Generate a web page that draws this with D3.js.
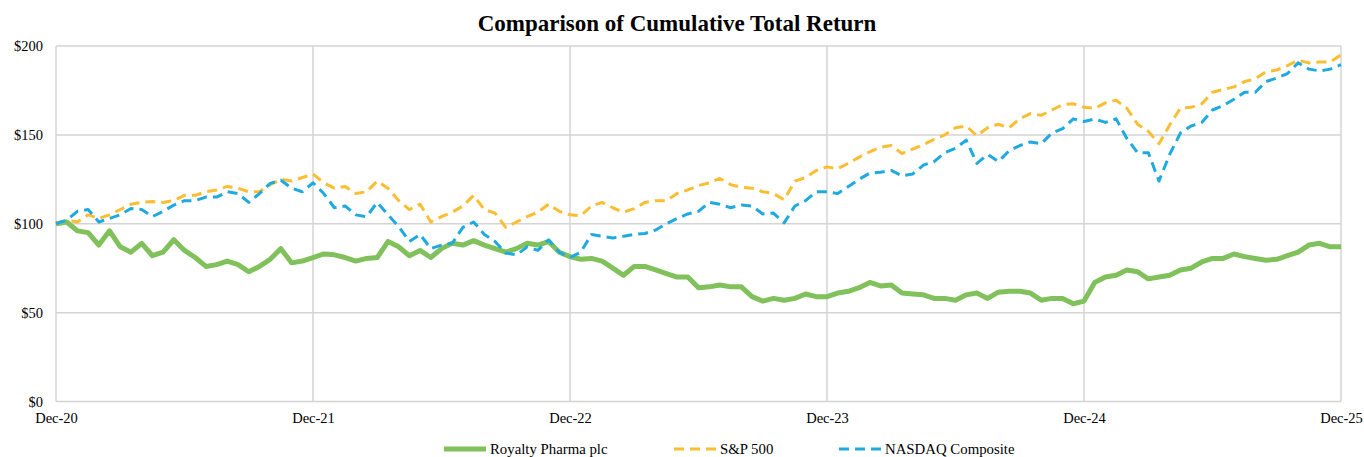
<!DOCTYPE html>
<html>
<head>
<meta charset="utf-8">
<script src="https://cdn.jsdelivr.net/npm/d3@7"></script>
<style>
	body { margin: 0; background: #ffffff; }
	text { font-family: "Liberation Serif", "Times New Roman", serif; fill: #000; }
</style>
</head>
<body onload="body_ready()">
<div id="container"></div>
<script>

// tick labels for the x axis (one per year end) and the y axis
var xLabels = ["Dec-20", "Dec-21", "Dec-22", "Dec-23", "Dec-24", "Dec-25"];
var yTicks = [0, 50, 100, 150, 200];

// values read twice a month, Dec-20 .. Dec-25 (121 points)
var royalty = [
	100, 101, 96, 95, 88, 96, 87, 84, 89, 82, 84, 91, 85, 81, 76, 77, 79, 77, 73, 76, 80, 86, 78, 79, 81,
	83, 82.5, 81, 79, 80.5, 81, 90, 87, 82, 85, 81, 86, 89, 88, 90.5, 88, 86, 84, 86, 89, 88, 90, 84, 81.5,
	80, 80.5, 79, 75, 71, 76, 76, 74, 72, 70, 70, 64, 64.5, 65.5, 64.5, 64.5, 59, 56.5, 58, 57, 58, 60.5, 59, 59,
	61, 62, 64, 67, 65, 65.5, 61, 60.5, 60, 58, 58, 57, 60, 61, 58, 61.5, 62, 62, 61, 57, 58, 58, 55, 56.5,
	67, 70, 71, 74, 73, 69, 70, 71, 74, 75, 78.5, 80.5, 80.5, 83, 81.5, 80.5, 79.5, 80, 82, 84, 88, 89, 87, 87
];

var sp500 = [
	100, 102, 101, 105, 103, 105, 108, 111, 112, 112.5, 112, 113, 116, 116, 118, 119, 121, 120, 118, 118, 122, 125, 124, 126, 128,
	123, 120, 121, 117, 118, 124, 120, 113, 108, 111, 101, 104, 106.5, 110, 116, 108, 106, 98, 101, 104, 106.5, 111, 107, 105,
	104.5, 110, 112, 109, 106.5, 108.5, 112, 113, 113, 117, 119, 121.5, 123, 125.5, 122, 120.5, 120, 118, 117, 113.5, 124, 126, 130, 132,
	131, 134, 137.5, 140.5, 143, 144, 139.5, 142, 144.5, 147.5, 150, 154, 155, 149.5, 154, 156, 154, 159, 162, 161, 164, 167, 167.5, 165.5,
	165, 168, 169.5, 165, 156, 152, 145, 155.5, 165, 165.5, 167.5, 174, 175.5, 177, 180, 181.5, 185.5, 186.5, 189, 192, 190.5, 191, 191, 195
];

var nasdaq = [
	100, 102, 107, 108, 101, 103, 105, 108.6, 108, 104, 107, 110.5, 113, 113, 115, 115, 118, 117, 112, 117, 122.7, 124.5, 120, 118, 123,
	117, 109, 110, 105, 104, 112, 105, 98.5, 90, 94, 86, 88, 89, 98, 101, 94, 90, 83.5, 82.5, 87, 85, 91, 84, 81,
	84, 94, 93, 92, 93, 94, 94.5, 96.5, 100, 103, 105.5, 107, 112, 111, 109, 110.5, 110, 105.5, 106, 100.5, 110, 113, 118, 118,
	117, 121, 125, 128.5, 129, 130, 127, 128, 133, 135, 140, 142.5, 147, 134, 139, 135, 141, 144, 146, 145, 151, 153.5, 159, 157.5,
	159, 157, 159, 148, 140, 140, 124, 139, 151, 155, 157, 164, 166.5, 170, 174, 174, 180, 182, 184.5, 190.5, 187, 186, 187, 189.5
];

var seriesNames = ["Royalty Pharma plc", "S&P 500", "NASDAQ Composite"];

function body_ready()
{// called when the body is ready

	var width = 1364, height = 457;
	var left = 56, right = 1341, top = 46, bottom = 401.5;
	var perYear = 24;

	var svg = d3.select("#container")
		.append("svg")
		.attr("width", width)
		.attr("height", height);

	var x = d3.scaleLinear().domain([0, royalty.length - 1]).range([left, right]);
	var y = d3.scaleLinear().domain([0, 200]).range([bottom, top]);

	// title
	svg.append("text")
		.attr("x", 677)
		.attr("y", 31)
		.attr("text-anchor", "middle")
		.style("font-size", "23px")
		.style("font-weight", "bold")
		.text("Comparison of Cumulative Total Return");

	// grid lines
	var grid = svg.append("g").attr("stroke", "#d4d4d4").attr("stroke-width", 1.5);
	grid.selectAll("line.h")
		.data(yTicks)
		.enter()
		.append("line")
			.attr("x1", left).attr("x2", right)
			.attr("y1", (d) => y(d)).attr("y2", (d) => y(d));
	grid.selectAll("line.v")
		.data(xLabels)
		.enter()
		.append("line")
			.attr("x1", (d, i) => x(i * perYear)).attr("x2", (d, i) => x(i * perYear))
			.attr("y1", top).attr("y2", bottom);

	// y axis labels
	var yAxis = d3.axisLeft(y)
		.tickValues(yTicks)
		.tickFormat((d) => "$" + d)
		.tickSize(0)
		.tickPadding(13);
	svg.append("g")
		.attr("transform", "translate(" + left + ",0)")
		.call(yAxis)
		.call((g) => g.select(".domain").remove())
		.selectAll("text")
			.style("font-family", "'Liberation Serif', serif")
			.style("font-size", "14.5px");

	// x axis labels
	var xAxis = d3.axisBottom(x)
		.tickValues(xLabels.map((d, i) => i * perYear))
		.tickFormat((d) => xLabels[d / perYear])
		.tickSize(0)
		.tickPadding(11);
	svg.append("g")
		.attr("transform", "translate(0," + bottom + ")")
		.call(xAxis)
		.call((g) => g.select(".domain").remove())
		.selectAll("text")
			.style("font-family", "'Liberation Serif', serif")
			.style("font-size", "14.5px");

	var line = d3.line()
		.x((d, i) => x(i))
		.y((d) => y(d));

	var styles = [
		{data: royalty, color: "#80c15b", width: 5, dash: null},
		{data: sp500, color: "#fbbd31", width: 3, dash: "10,6"},
		{data: nasdaq, color: "#1eaae1", width: 3, dash: "10,6"}
	];

	// draw lines, green first then the dashed ones above it
	svg.selectAll("path.series")
		.data(styles)
		.enter()
		.append("path")
			.attr("class", "series")
			.attr("d", (d) => line(d.data))
			.attr("fill", "none")
			.attr("stroke", (d) => d.color)
			.attr("stroke-width", (d) => d.width)
			.attr("stroke-dasharray", (d) => d.dash)
			.attr("stroke-linejoin", "round");

	// legend
	var legendX = [444, 674, 839];
	var legend = svg.selectAll("g.legend")
		.data(styles)
		.enter()
		.append("g")
			.attr("transform", (d, i) => "translate(" + legendX[i] + ",449)");
	legend.append("line")
		.attr("x1", 0).attr("x2", 42)
		.attr("stroke", (d) => d.color)
		.attr("stroke-width", (d) => d.width)
		.attr("stroke-dasharray", (d) => d.dash);
	legend.append("text")
		.attr("x", 46)
		.attr("y", 5)
		.style("font-size", "14.8px")
		.text((d, i) => seriesNames[i]);

}// End body_ready

</script>
</body>
</html>
